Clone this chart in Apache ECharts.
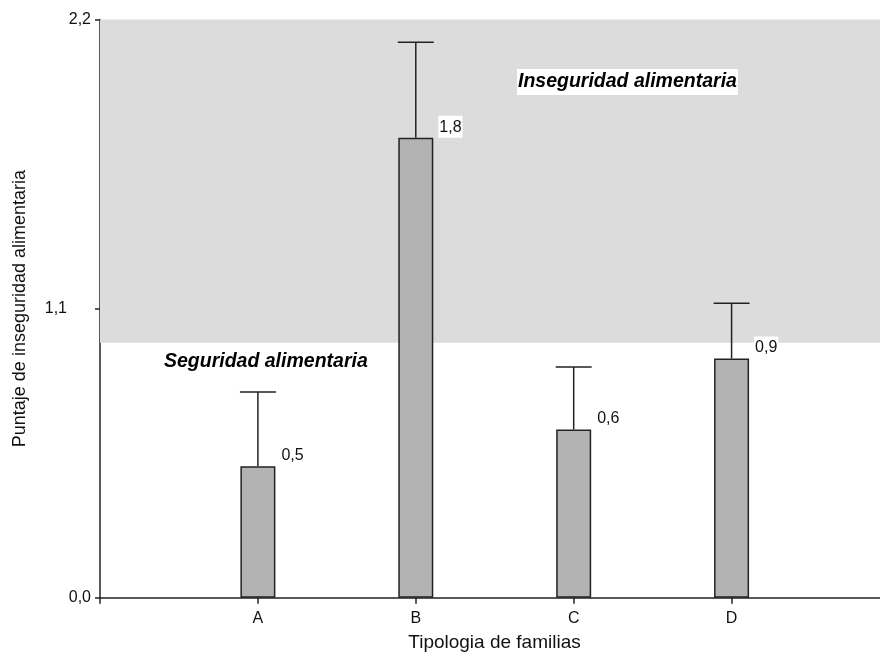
<!DOCTYPE html>
<html>
<head>
<meta charset="utf-8">
<script src="https://cdn.jsdelivr.net/npm/echarts@6/dist/echarts.min.js"></script>
<style>
  html, body { margin: 0; padding: 0; background: #fff; }
  #chart { width: 880px; height: 652px; }
</style>
</head>
<body>
<div id="chart"></div>
<script>
// Family types placed at x = 1..4 on a value axis starting at 0
const categories = ['A', 'B', 'C', 'D'];
const positions = [1, 2, 3, 4];
// Mean food-insecurity score per family type
const means = [0.5, 1.75, 0.64, 0.91];
// Upper end of each error bar
const upperBounds = [0.783, 2.113, 0.878, 1.12];
// Threshold above which the score counts as food insecurity
const insecurityThreshold = 0.97;
const yTickLabels = { '0': '0,0', '1.1': '1,1', '2.2': '2,2' };

const FONT = '"Liberation Sans", Arial, sans-serif';
const INK = '#222';
const X_MAX = 4.94;

const chart = echarts.init(document.getElementById('chart'), null, { renderer: 'canvas' });

const barData = positions.map((x, i) => [x, means[i]]);
const errData = positions.map((x, i) => [x, means[i], upperBounds[i]]);

chart.setOption({
  animation: false,
  backgroundColor: '#fff',
  grid: {
    left: 100, right: 0, top: 19.5, bottom: 54.3,
    containLabel: false,
    outerBoundsMode: 'none'
  },
  xAxis: {
    type: 'value',
    min: 0, max: X_MAX, interval: 1,
    name: 'Tipologia de familias',
    nameLocation: 'middle',
    nameGap: 36,
    nameTextStyle: { fontFamily: FONT, fontSize: 19, color: '#111', padding: [0, 0, 0, 9] },
    axisLine: { lineStyle: { color: INK, width: 1.5 } },
    axisTick: {
      length: 6,
      customValues: [0].concat(positions),
      lineStyle: { color: INK, width: 1.5 }
    },
    axisLabel: {
      fontFamily: FONT, fontSize: 16, color: '#111', margin: 13,
      customValues: positions,
      formatter: v => categories[positions.indexOf(v)] || ''
    },
    splitLine: { show: false }
  },
  yAxis: {
    type: 'value',
    min: 0, max: 2.2, interval: 1.1,
    name: 'Puntaje de inseguridad alimentaria',
    nameLocation: 'middle',
    nameGap: 71,
    nameRotate: 90,
    nameTextStyle: { fontFamily: FONT, fontSize: 18, color: '#111' },
    axisLine: { show: true, lineStyle: { color: INK, width: 1.5 } },
    axisTick: { show: true, length: 5, lineStyle: { color: INK, width: 1.5 } },
    axisLabel: {
      fontFamily: FONT, fontSize: 16, color: '#111', margin: 9,
      formatter: v => {
        const key = String(Math.round(v * 10) / 10);
        const txt = yTickLabels[key] || '';
        return key === '1.1' ? '{s|' + txt + '}' : txt;
      },
      rich: { s: { fontFamily: FONT, fontSize: 16, color: '#111', padding: [0, 24, 0, 0] } }
    },
    splitLine: { show: false }
  },
  series: [
    {
      type: 'bar',
      data: barData,
      barWidth: 35,
      z: 3,
      itemStyle: { color: '#b3b3b3', borderColor: INK, borderWidth: 1.5 },
      label: {
        show: true,
        position: ['100%', 0],
        align: 'left',
        verticalAlign: 'bottom',
        offset: [5, 0],
        fontFamily: FONT,
        fontSize: 16,
        lineHeight: 17,
        color: '#111',
        backgroundColor: '#fff',
        padding: [3, 1, 2, 1],
        formatter: p => p.value[1].toFixed(1).replace('.', ',')
      },
      markArea: {
        silent: true,
        itemStyle: { color: '#dcdcdc' },
        data: [[{ xAxis: 0, yAxis: insecurityThreshold }, { xAxis: X_MAX, yAxis: 2.2 }]]
      }
    },
    {
      type: 'custom',
      data: errData,
      z: 2,
      renderItem: (params, api) => {
        const x = api.value(0);
        const lo = api.coord([x, api.value(1)]);
        const hi = api.coord([x, api.value(2)]);
        const half = 18;
        const style = { stroke: INK, lineWidth: 1.5 };
        return {
          type: 'group',
          children: [
            { type: 'line', shape: { x1: lo[0], y1: lo[1], x2: hi[0], y2: hi[1] }, style },
            { type: 'line', shape: { x1: hi[0] - half, y1: hi[1], x2: hi[0] + half, y2: hi[1] }, style }
          ]
        };
      }
    }
  ],
  graphic: [
    {
      type: 'text', left: 517, top: 69, z: 10,
      style: {
        text: 'Inseguridad alimentaria',
        font: 'italic bold 19.5px ' + FONT,
        fill: '#000',
        backgroundColor: '#fff',
        padding: [3, 1, 3, 1]
      }
    },
    {
      type: 'text', left: 164, top: 352, z: 10,
      style: {
        text: 'Seguridad alimentaria',
        font: 'italic bold 19.5px ' + FONT,
        fill: '#000'
      }
    }
  ]
});
</script>
</body>
</html>
